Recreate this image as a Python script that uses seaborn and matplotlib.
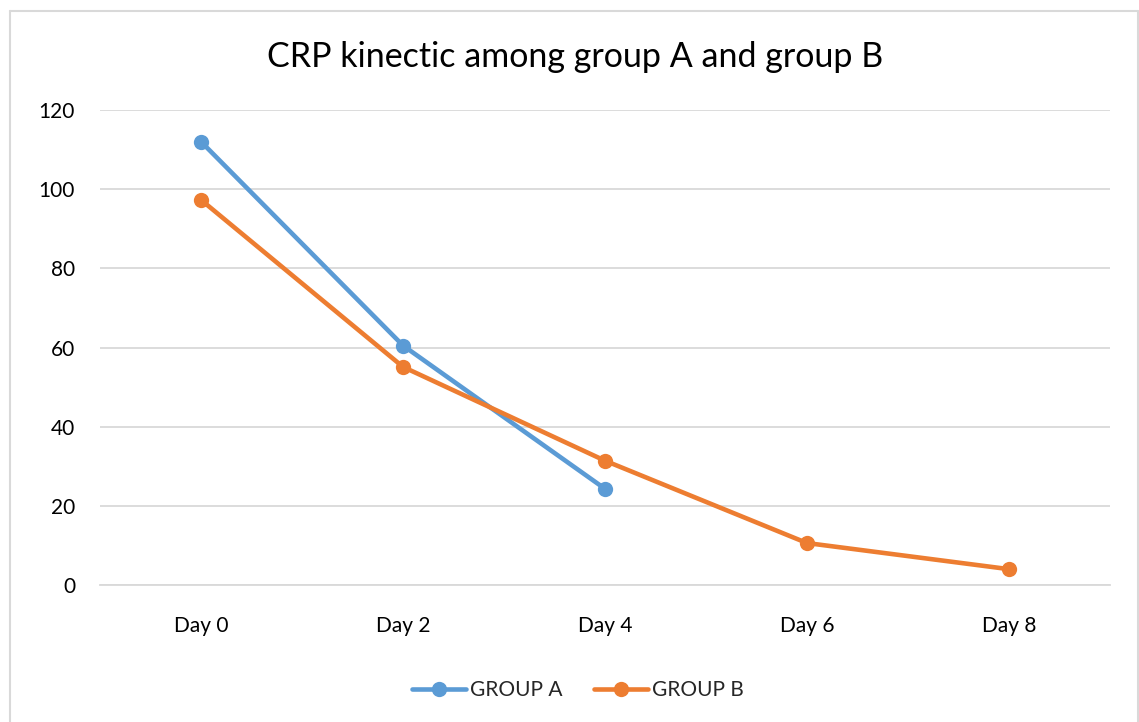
import matplotlib
matplotlib.use("Agg")
import matplotlib.pyplot as plt
import seaborn as sns
import pandas as pd
from matplotlib.lines import Line2D

days = ["Day 0", "Day 2", "Day 4", "Day 6", "Day 8"]
group_a = [112.0, 60.5, 24.3]
group_b = [97.3, 55.1, 31.4, 10.6, 4.0]
series_names = ["GROUP A", "GROUP B"]
colors = ["#5B9BD5", "#ED7D31"]
yticks = [0, 20, 40, 60, 80, 100, 120]

rows = []
for d, v in zip(days, group_a):
    rows.append({"day": d, "value": v, "group": series_names[0]})
for d, v in zip(days, group_b):
    rows.append({"day": d, "value": v, "group": series_names[1]})
df = pd.DataFrame(rows)
df["day"] = pd.Categorical(df["day"], categories=days, ordered=True)

sns.set_theme(style="white")
plt.rcParams["font.family"] = ["Lato", "DejaVu Sans"]

fig = plt.figure(figsize=(11.39, 7.22), dpi=100)
ax = fig.add_axes([100 / 1139, 137 / 722, 1010 / 1139, 475 / 722])

pos = {d: i for i, d in enumerate(days)}
df["x"] = df["day"].map(pos).astype(float)

sns.lineplot(data=df, x="x", y="value", hue="group", palette=colors,
             hue_order=series_names, marker="o", markersize=11,
             markeredgewidth=0, linewidth=3.3, ax=ax, legend=False, zorder=3)

ax.set_xlim(-0.5, len(days) - 0.5)
ax.set_ylim(0, 120)
ax.set_xticks(range(len(days)))
ax.set_xticklabels(days)
ax.set_yticks(yticks)
ax.set_xlabel("")
ax.set_ylabel("")
ax.grid(axis="y", color="#D9D9D9", linewidth=1.3)
ax.grid(axis="x", visible=False)
for s in ["top", "right", "left"]:
    ax.spines[s].set_visible(False)
ax.spines["bottom"].set_color("#D9D9D9")
ax.spines["bottom"].set_linewidth(1.3)
ax.tick_params(axis="both", length=0, labelsize=15, colors="#000000")
ax.tick_params(axis="x", pad=22)
ax.tick_params(axis="y", pad=18)
ax.set_axisbelow(True)

fig.text(575 / 1139, 1 - 57 / 722, "CRP kinectic among group A and group B",
         ha="center", va="center", fontsize=24.5, color="#000000")

handles = [Line2D([0], [0], color=c, linewidth=3.3, marker="o", markersize=11,
                  markeredgewidth=0) for c in colors]
fig.legend(handles, series_names, loc="center", bbox_to_anchor=(578 / 1139, 1 - 690 / 722),
           ncol=2, frameon=False, fontsize=15, handlelength=2.6, columnspacing=1.5,
           handletextpad=0.2)

border_color = "#D9D9D9"
fig.add_artist(Line2D([10 / 1139, 10 / 1139], [0, 1 - 11 / 722], color=border_color,
                      linewidth=1.5, transform=fig.transFigure))
fig.add_artist(Line2D([10 / 1139, 1138 / 1139], [1 - 11 / 722, 1 - 11 / 722], color=border_color,
                      linewidth=1.5, transform=fig.transFigure))
fig.add_artist(Line2D([1138 / 1139, 1138 / 1139], [0, 1 - 11 / 722], color=border_color,
                      linewidth=1.5, transform=fig.transFigure))

fig.savefig("out.png", dpi=100, facecolor="white")
